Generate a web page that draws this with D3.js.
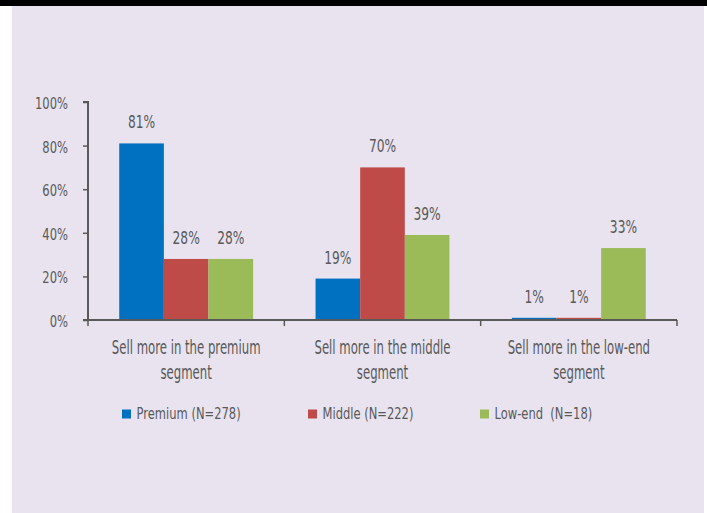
<!DOCTYPE html>
<html><head><meta charset="utf-8">
<script src="https://cdn.jsdelivr.net/npm/d3@7"></script>
<style>
html,body{margin:0;padding:0;background:#fff;}
svg{display:block;}
text{font-family:"DejaVu Sans","Liberation Sans",sans-serif;fill:#595959;}
</style></head><body>
<script>
const categories = [["Sell more in the premium","segment"],["Sell more in the middle","segment"],["Sell more in the low-end","segment"]];
const seriesNames = ["Premium (N=278)","Middle (N=222)","Low-end  (N=18)"];
const premium = [81,19,1];
const middle = [28,70,1];
const lowEnd = [28,39,33];
const yTicks = [0,20,40,60,80,100];
const colors = ["#0070C0","#BE4B48","#9BBB59"];
const series = [premium, middle, lowEnd];

const W=707,H=513;
const FONT='"DejaVu Sans","Liberation Sans",sans-serif';
const svg=d3.select("body").append("svg").attr("width",W).attr("height",H);
svg.append("rect").attr("x",12).attr("y",0).attr("width",692).attr("height",H).attr("fill","#E8E3EF");
svg.append("rect").attr("x",0).attr("y",0).attr("width",W).attr("height",6).attr("fill","#000");

function txt(parent,x,y,s,size,sx,anchor){
  return parent.append("text").attr("transform",`translate(${x},${y}) scale(${sx},1)`)
    .attr("text-anchor",anchor).attr("font-size",size).style("white-space","pre").text(s);
}

const x0=88,x1=677,yTop=102,yBot=320;
const y=d3.scaleLinear().domain([0,100]).range([yBot,yTop]);
const xc=d3.scaleBand().domain(d3.range(categories.length)).range([x0,x1]).paddingInner(0).paddingOuter(0);
const xs=d3.scaleBand().domain(d3.range(series.length)).range([0,xc.bandwidth()]).paddingOuter(0.7).paddingInner(0);

const g=svg.append("g");
series.forEach((vals,si)=>{
  vals.forEach((v,ci)=>{
    const bx=xc(ci)+xs(si);
    g.append("rect").attr("x",bx).attr("y",y(v)).attr("width",xs.bandwidth()).attr("height",yBot-y(v)).attr("fill",colors[si]);
    txt(g,bx+xs.bandwidth()/2,y(v)-15,v+"%",17.5,0.7,"middle");
  });
});

// y axis
const yAxis=d3.axisLeft(y).tickValues(yTicks).tickSize(5).tickFormat(d=>d+"%");
const ya=svg.append("g").attr("transform",`translate(${x0},0)`).call(yAxis);
ya.select(".domain").attr("stroke","#595959").attr("stroke-width",2).attr("d",`M-5,${yTop}H0V${yBot}`);
ya.selectAll(".tick line").attr("stroke","#595959").attr("stroke-width",1.5);
ya.selectAll(".tick text").attr("x",null).attr("dy",null).attr("transform","translate(-20,6.5) scale(0.7,1)")
  .attr("font-size",16.5).attr("fill","#595959").style("font-family",FONT);

// x axis
const xa=svg.append("g");
xa.append("line").attr("x1",x0-5).attr("x2",x1).attr("y1",yBot).attr("y2",yBot).attr("stroke","#595959").attr("stroke-width",2);
d3.range(categories.length+1).forEach(i=>{
  const xx=i<categories.length?xc(i):x1;
  xa.append("line").attr("x1",xx).attr("x2",xx).attr("y1",yBot).attr("y2",yBot+6).attr("stroke","#595959").attr("stroke-width",1.5);
});
categories.forEach((c,i)=>{
  c.forEach((line,li)=>{
    txt(xa,xc(i)+xc.bandwidth()/2,354+li*25,line,19,0.616,"middle");
  });
});

// legend
const legX=[122,308,480];
seriesNames.forEach((n,i)=>{
  svg.append("rect").attr("x",legX[i]).attr("y",409.5).attr("width",9).attr("height",9).attr("fill",colors[i]);
  txt(svg,legX[i]+14.5,418.5,n,16,0.72,"start");
});
</script>
</body></html>
